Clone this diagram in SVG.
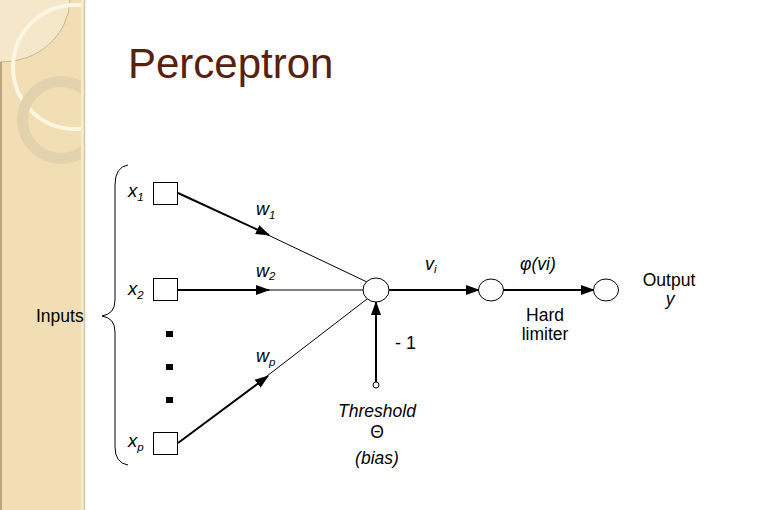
<svg xmlns="http://www.w3.org/2000/svg" width="765" height="510" viewBox="0 0 765 510">
<defs>
<style>
.t{font-family:"Liberation Sans",Arial,sans-serif;fill:#000}
.i{font-style:italic}
.box{fill:#fff;stroke:#000;stroke-width:1}
.node{fill:#fff;stroke:#000;stroke-width:1}
.thick{stroke:#000;stroke-width:2;fill:none}
.thin{stroke:#000;stroke-width:1;fill:none}
</style>
<marker id="arr" markerUnits="userSpaceOnUse" markerWidth="14" markerHeight="12" refX="13" refY="5" orient="auto" viewBox="0 0 14 10">
<path d="M0,0 L14,5 L0,10 Z" fill="#000"/>
</marker>
<clipPath id="bar"><rect x="0" y="0" width="82" height="510"/></clipPath>
</defs>
<rect width="765" height="510" fill="#fff"/>
<g id="decor">
<rect x="0" y="0" width="84" height="510" fill="#f1deb4"/>
<g clip-path="url(#bar)">
<path d="M0,0 L70,0 A68,64 0 0 1 0,62 Z" fill="#f5e8ca"/>
<path d="M70,0 A68,64 0 0 1 0,62" fill="none" stroke="#cdb88e" stroke-width="1"/>
<circle cx="75" cy="67" r="62" fill="none" stroke="#fcf6e2" stroke-width="4"/>
<circle cx="61" cy="120" r="38.5" fill="none" stroke="#e2d2ae" stroke-width="11"/>
</g>
<line x1="1" y1="62" x2="1" y2="510" stroke="#b9a47c" stroke-width="2"/>
<rect x="81" y="0" width="3" height="510" fill="#f6ead0"/>
<line x1="84.5" y1="0" x2="84.5" y2="510" stroke="#d8c7a2" stroke-width="1.5"/>
</g>
<text class="t" x="128" y="78" font-size="42" style="fill:#58200f">Perceptron</text>
<g id="brace">
<path class="thin" d="M128,165 Q115,167 115,185 L115,300 Q115,314 102,316 Q115,318 115,332 L115,447 Q115,463 128,465" stroke-width="1"/>
<text class="t" x="36" y="322" font-size="17.5">Inputs</text>
</g>
<g id="connectors">
<line class="thick" x1="178" y1="193" x2="269" y2="235" marker-end="url(#arr)"/>
<line class="thin" x1="268" y1="235" x2="367" y2="282"/>
<line class="thick" x1="178" y1="290" x2="269" y2="290" marker-end="url(#arr)"/>
<line class="thin" x1="268" y1="290" x2="363" y2="290"/>
<line class="thick" x1="178" y1="443" x2="268" y2="376" marker-end="url(#arr)"/>
<line class="thin" x1="267" y1="376" x2="367" y2="299"/>
<line class="thick" x1="376" y1="382" x2="376" y2="302" marker-end="url(#arr)"/>
<line class="thick" x1="389" y1="290" x2="479" y2="290" marker-end="url(#arr)"/>
<line class="thick" x1="503" y1="290" x2="594" y2="290" marker-end="url(#arr)"/>
</g>
<g id="x1">
<rect class="box" x="153.5" y="182.5" width="24" height="22"/>
<text class="t i" x="128" y="197" font-size="18.5">x<tspan font-size="11.5" dy="4">1</tspan></text>
</g>
<g id="x2">
<rect class="box" x="153.5" y="278.5" width="24" height="22"/>
<text class="t i" x="128" y="295" font-size="18.5">x<tspan font-size="11.5" dy="4">2</tspan></text>
</g>
<g id="dots">
<rect x="166" y="331" width="7" height="6" fill="#000"/>
<rect x="166" y="364" width="7" height="6" fill="#000"/>
<rect x="166" y="397" width="7" height="6" fill="#000"/>
</g>
<g id="xp">
<rect class="box" x="153.5" y="432.5" width="24" height="22"/>
<text class="t i" x="128" y="447" font-size="18.5">x<tspan font-size="11.5" dy="4">p</tspan></text>
</g>
<g id="weights">
<text class="t i" x="256" y="215" font-size="18">w<tspan font-size="11.5" dy="4">1</tspan></text>
<text class="t i" x="256" y="277" font-size="18">w<tspan font-size="11.5" dy="3">2</tspan></text>
<text class="t i" x="256" y="362" font-size="18">w<tspan font-size="11.5" dy="4">p</tspan></text>
</g>
<g id="sum">
<ellipse class="node" cx="376" cy="290" rx="13" ry="12"/>
<text class="t i" x="425" y="270" font-size="18">v<tspan font-size="11.5" dy="3">i</tspan></text>
</g>
<g id="bias">
<circle class="node" cx="376" cy="385" r="3"/>
<text class="t" x="395" y="349" font-size="18">- 1</text>
<text class="t i" x="377" y="417" font-size="17.5" text-anchor="middle">Threshold</text>
<text class="t" x="377" y="438" font-size="17.5" text-anchor="middle">Θ</text>
<text class="t i" x="377" y="464" font-size="17.5" text-anchor="middle">(bias)</text>
</g>
<g id="limiter">
<ellipse class="node" cx="491" cy="290" rx="12.5" ry="11"/>
<text class="t i" x="520" y="270" font-size="17.5">φ(vi)</text>
<text class="t" x="545" y="321" font-size="17.5" text-anchor="middle">Hard</text>
<text class="t" x="545" y="340" font-size="17.5" text-anchor="middle">limiter</text>
</g>
<g id="output">
<ellipse class="node" cx="606" cy="290" rx="12.5" ry="11"/>
<text class="t" x="669" y="286" font-size="17.5" text-anchor="middle">Output</text>
<text class="t i" x="670" y="305" font-size="17.5" text-anchor="middle">y</text>
</g>
</svg>
